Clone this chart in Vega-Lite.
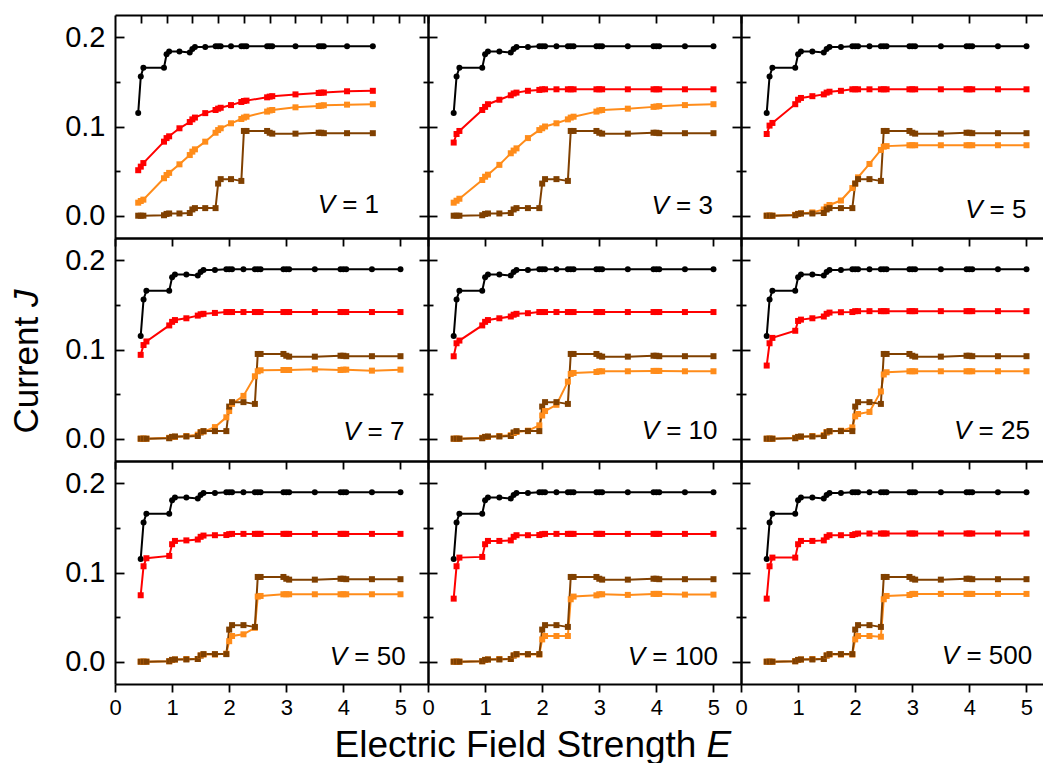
{
"$schema": "https://vega.github.io/schema/vega-lite/v6.json",
"padding": {"left": 9, "top": 14, "right": 0, "bottom": 0},
"datasets": {
"curves": [
{"V":1,"E":0.45,"black":0.115,"red":0.051,"orange":0.0146,"brown":0},
{"V":1,"E":0.5,"black":0.156,"red":0.055,"orange":0.0165,"brown":0},
{"V":1,"E":0.55,"black":0.166,"red":0.059,"orange":0.018,"brown":0},
{"V":1,"E":0.95,"black":0.166,"red":0.083,"orange":0.042,"brown":0.0005},
{"V":1,"E":1,"black":0.181,"red":0.087,"orange":0.0456,"brown":0.002},
{"V":1,"E":1.05,"black":0.184,"red":0.089,"orange":0.048,"brown":0.0025},
{"V":1,"E":1.25,"black":0.184,"red":0.098,"orange":0.0576,"brown":0.0025},
{"V":1,"E":1.45,"black":0.183,"red":0.105,"orange":0.068,"brown":0.003},
{"V":1,"E":1.5,"black":0.187,"red":0.108,"orange":0.0718,"brown":0.007},
{"V":1,"E":1.55,"black":0.189,"red":0.11,"orange":0.0744,"brown":0.0085},
{"V":1,"E":1.75,"black":0.189,"red":0.115,"orange":0.083,"brown":0.0085},
{"V":1,"E":1.95,"black":0.19,"red":0.1185,"orange":0.093,"brown":0.0085},
{"V":1,"E":2,"black":0.19,"red":0.12,"orange":0.096,"brown":0.036},
{"V":1,"E":2.05,"black":0.19,"red":0.121,"orange":0.098,"brown":0.041},
{"V":1,"E":2.25,"black":0.19,"red":0.124,"orange":0.1036,"brown":0.041},
{"V":1,"E":2.45,"black":0.19,"red":0.1275,"orange":0.1084,"brown":0.039},
{"V":1,"E":2.5,"black":0.19,"red":0.1286,"orange":0.11,"brown":0.095},
{"V":1,"E":2.55,"black":0.19,"red":0.129,"orange":0.111,"brown":0.095},
{"V":1,"E":2.95,"black":0.19,"red":0.1327,"orange":0.1167,"brown":0.095},
{"V":1,"E":3,"black":0.19,"red":0.1335,"orange":0.118,"brown":0.093},
{"V":1,"E":3.05,"black":0.19,"red":0.134,"orange":0.1185,"brown":0.092},
{"V":1,"E":3.5,"black":0.19,"red":0.136,"orange":0.1215,"brown":0.092},
{"V":1,"E":3.95,"black":0.19,"red":0.1376,"orange":0.123,"brown":0.093},
{"V":1,"E":4,"black":0.19,"red":0.138,"orange":0.1234,"brown":0.093},
{"V":1,"E":4.05,"black":0.19,"red":0.138,"orange":0.1238,"brown":0.0925},
{"V":1,"E":4.5,"black":0.19,"red":0.1395,"orange":0.1245,"brown":0.0925},
{"V":1,"E":5,"black":0.19,"red":0.14,"orange":0.125,"brown":0.0925},
{"V":3,"E":0.45,"black":0.115,"red":0.082,"orange":0.0146,"brown":0},
{"V":3,"E":0.5,"black":0.156,"red":0.0916,"orange":0.0168,"brown":0},
{"V":3,"E":0.55,"black":0.166,"red":0.095,"orange":0.019,"brown":0},
{"V":3,"E":0.95,"black":0.166,"red":0.1185,"orange":0.04,"brown":0.0005},
{"V":3,"E":1,"black":0.181,"red":0.122,"orange":0.0437,"brown":0.002},
{"V":3,"E":1.05,"black":0.184,"red":0.125,"orange":0.046,"brown":0.0025},
{"V":3,"E":1.25,"black":0.184,"red":0.13,"orange":0.057,"brown":0.0025},
{"V":3,"E":1.45,"black":0.183,"red":0.135,"orange":0.07,"brown":0.003},
{"V":3,"E":1.5,"black":0.187,"red":0.137,"orange":0.073,"brown":0.007},
{"V":3,"E":1.55,"black":0.189,"red":0.138,"orange":0.0755,"brown":0.0085},
{"V":3,"E":1.75,"black":0.189,"red":0.14,"orange":0.087,"brown":0.0085},
{"V":3,"E":1.95,"black":0.19,"red":0.141,"orange":0.096,"brown":0.0085},
{"V":3,"E":2,"black":0.19,"red":0.1417,"orange":0.098,"brown":0.036},
{"V":3,"E":2.05,"black":0.19,"red":0.1417,"orange":0.1,"brown":0.041},
{"V":3,"E":2.25,"black":0.19,"red":0.1417,"orange":0.1036,"brown":0.041},
{"V":3,"E":2.45,"black":0.19,"red":0.1417,"orange":0.108,"brown":0.039},
{"V":3,"E":2.5,"black":0.19,"red":0.1417,"orange":0.11,"brown":0.095},
{"V":3,"E":2.55,"black":0.19,"red":0.1417,"orange":0.111,"brown":0.095},
{"V":3,"E":2.95,"black":0.19,"red":0.1417,"orange":0.1167,"brown":0.095},
{"V":3,"E":3,"black":0.19,"red":0.1417,"orange":0.118,"brown":0.093},
{"V":3,"E":3.05,"black":0.19,"red":0.1417,"orange":0.1185,"brown":0.092},
{"V":3,"E":3.5,"black":0.19,"red":0.1417,"orange":0.12,"brown":0.092},
{"V":3,"E":3.95,"black":0.19,"red":0.1417,"orange":0.122,"brown":0.093},
{"V":3,"E":4,"black":0.19,"red":0.1417,"orange":0.1224,"brown":0.093},
{"V":3,"E":4.05,"black":0.19,"red":0.1417,"orange":0.1228,"brown":0.0925},
{"V":3,"E":4.5,"black":0.19,"red":0.1417,"orange":0.124,"brown":0.0925},
{"V":3,"E":5,"black":0.19,"red":0.1417,"orange":0.125,"brown":0.0925},
{"V":5,"E":0.45,"black":0.115,"red":0.0916,"orange":0,"brown":0},
{"V":5,"E":0.5,"black":0.156,"red":0.101,"orange":0,"brown":0},
{"V":5,"E":0.55,"black":0.166,"red":0.104,"orange":0,"brown":0},
{"V":5,"E":0.95,"black":0.166,"red":0.125,"orange":0.001,"brown":0.0005},
{"V":5,"E":1,"black":0.181,"red":0.13,"orange":0.002,"brown":0.002},
{"V":5,"E":1.05,"black":0.184,"red":0.132,"orange":0.0026,"brown":0.0025},
{"V":5,"E":1.25,"black":0.184,"red":0.134,"orange":0.0037,"brown":0.0025},
{"V":5,"E":1.45,"black":0.183,"red":0.136,"orange":0.007,"brown":0.003},
{"V":5,"E":1.5,"black":0.187,"red":0.138,"orange":0.01,"brown":0.007},
{"V":5,"E":1.55,"black":0.189,"red":0.139,"orange":0.012,"brown":0.0085},
{"V":5,"E":1.75,"black":0.189,"red":0.14,"orange":0.017,"brown":0.0085},
{"V":5,"E":1.95,"black":0.19,"red":0.1417,"orange":0.031,"brown":0.0085},
{"V":5,"E":2,"black":0.19,"red":0.1417,"orange":0.036,"brown":0.036},
{"V":5,"E":2.05,"black":0.19,"red":0.1417,"orange":0.043,"brown":0.041},
{"V":5,"E":2.25,"black":0.19,"red":0.1417,"orange":0.058,"brown":0.041},
{"V":5,"E":2.45,"black":0.19,"red":0.1417,"orange":0.0737,"brown":0.039},
{"V":5,"E":2.5,"black":0.19,"red":0.1417,"orange":0.0774,"brown":0.095},
{"V":5,"E":2.55,"black":0.19,"red":0.1417,"orange":0.078,"brown":0.095},
{"V":5,"E":2.95,"black":0.19,"red":0.1417,"orange":0.079,"brown":0.095},
{"V":5,"E":3,"black":0.19,"red":0.1417,"orange":0.079,"brown":0.093},
{"V":5,"E":3.05,"black":0.19,"red":0.1417,"orange":0.079,"brown":0.092},
{"V":5,"E":3.5,"black":0.19,"red":0.1417,"orange":0.079,"brown":0.092},
{"V":5,"E":3.95,"black":0.19,"red":0.1417,"orange":0.079,"brown":0.093},
{"V":5,"E":4,"black":0.19,"red":0.1417,"orange":0.079,"brown":0.093},
{"V":5,"E":4.05,"black":0.19,"red":0.1417,"orange":0.079,"brown":0.0925},
{"V":5,"E":4.5,"black":0.19,"red":0.1417,"orange":0.079,"brown":0.0925},
{"V":5,"E":5,"black":0.19,"red":0.1417,"orange":0.079,"brown":0.0925},
{"V":7,"E":0.45,"black":0.115,"red":0.094,"orange":0,"brown":0},
{"V":7,"E":0.5,"black":0.156,"red":0.105,"orange":0,"brown":0},
{"V":7,"E":0.55,"black":0.166,"red":0.109,"orange":0,"brown":0},
{"V":7,"E":0.95,"black":0.166,"red":0.127,"orange":0.001,"brown":0.0005},
{"V":7,"E":1,"black":0.181,"red":0.131,"orange":0.002,"brown":0.002},
{"V":7,"E":1.05,"black":0.184,"red":0.133,"orange":0.002,"brown":0.0025},
{"V":7,"E":1.25,"black":0.184,"red":0.135,"orange":0.003,"brown":0.0025},
{"V":7,"E":1.45,"black":0.183,"red":0.138,"orange":0.0045,"brown":0.003},
{"V":7,"E":1.5,"black":0.187,"red":0.1395,"orange":0.0075,"brown":0.007},
{"V":7,"E":1.55,"black":0.189,"red":0.14,"orange":0.008,"brown":0.0085},
{"V":7,"E":1.75,"black":0.189,"red":0.141,"orange":0.013,"brown":0.0085},
{"V":7,"E":1.95,"black":0.19,"red":0.142,"orange":0.024,"brown":0.0085},
{"V":7,"E":2,"black":0.19,"red":0.142,"orange":0.031,"brown":0.036},
{"V":7,"E":2.05,"black":0.19,"red":0.142,"orange":0.039,"brown":0.041},
{"V":7,"E":2.25,"black":0.19,"red":0.142,"orange":0.048,"brown":0.041},
{"V":7,"E":2.45,"black":0.19,"red":0.142,"orange":0.07,"brown":0.039},
{"V":7,"E":2.5,"black":0.19,"red":0.142,"orange":0.0756,"brown":0.095},
{"V":7,"E":2.55,"black":0.19,"red":0.142,"orange":0.0767,"brown":0.095},
{"V":7,"E":2.95,"black":0.19,"red":0.142,"orange":0.077,"brown":0.095},
{"V":7,"E":3,"black":0.19,"red":0.142,"orange":0.077,"brown":0.093},
{"V":7,"E":3.05,"black":0.19,"red":0.142,"orange":0.077,"brown":0.092},
{"V":7,"E":3.5,"black":0.19,"red":0.142,"orange":0.0778,"brown":0.092},
{"V":7,"E":3.95,"black":0.19,"red":0.142,"orange":0.077,"brown":0.093},
{"V":7,"E":4,"black":0.19,"red":0.142,"orange":0.0774,"brown":0.093},
{"V":7,"E":4.05,"black":0.19,"red":0.142,"orange":0.0774,"brown":0.0925},
{"V":7,"E":4.5,"black":0.19,"red":0.142,"orange":0.0763,"brown":0.0925},
{"V":7,"E":5,"black":0.19,"red":0.142,"orange":0.0774,"brown":0.0925},
{"V":10,"E":0.45,"black":0.115,"red":0.0924,"orange":0,"brown":0},
{"V":10,"E":0.5,"black":0.156,"red":0.107,"orange":0,"brown":0},
{"V":10,"E":0.55,"black":0.166,"red":0.11,"orange":0,"brown":0},
{"V":10,"E":0.95,"black":0.166,"red":0.127,"orange":0.001,"brown":0.0005},
{"V":10,"E":1,"black":0.181,"red":0.131,"orange":0.002,"brown":0.002},
{"V":10,"E":1.05,"black":0.184,"red":0.133,"orange":0.002,"brown":0.0025},
{"V":10,"E":1.25,"black":0.184,"red":0.135,"orange":0.003,"brown":0.0025},
{"V":10,"E":1.45,"black":0.183,"red":0.137,"orange":0.004,"brown":0.003},
{"V":10,"E":1.5,"black":0.187,"red":0.139,"orange":0.0064,"brown":0.007},
{"V":10,"E":1.55,"black":0.189,"red":0.14,"orange":0.0075,"brown":0.0085},
{"V":10,"E":1.75,"black":0.189,"red":0.1407,"orange":0.009,"brown":0.0085},
{"V":10,"E":1.95,"black":0.19,"red":0.142,"orange":0.015,"brown":0.0085},
{"V":10,"E":2,"black":0.19,"red":0.142,"orange":0.026,"brown":0.036},
{"V":10,"E":2.05,"black":0.19,"red":0.142,"orange":0.031,"brown":0.041},
{"V":10,"E":2.25,"black":0.19,"red":0.142,"orange":0.038,"brown":0.041},
{"V":10,"E":2.45,"black":0.19,"red":0.142,"orange":0.064,"brown":0.039},
{"V":10,"E":2.5,"black":0.19,"red":0.142,"orange":0.0726,"brown":0.095},
{"V":10,"E":2.55,"black":0.19,"red":0.142,"orange":0.0737,"brown":0.095},
{"V":10,"E":2.95,"black":0.19,"red":0.142,"orange":0.0748,"brown":0.095},
{"V":10,"E":3,"black":0.19,"red":0.142,"orange":0.0756,"brown":0.093},
{"V":10,"E":3.05,"black":0.19,"red":0.142,"orange":0.0756,"brown":0.092},
{"V":10,"E":3.5,"black":0.19,"red":0.142,"orange":0.0756,"brown":0.092},
{"V":10,"E":3.95,"black":0.19,"red":0.142,"orange":0.076,"brown":0.093},
{"V":10,"E":4,"black":0.19,"red":0.142,"orange":0.076,"brown":0.093},
{"V":10,"E":4.05,"black":0.19,"red":0.142,"orange":0.076,"brown":0.0925},
{"V":10,"E":4.5,"black":0.19,"red":0.142,"orange":0.0756,"brown":0.0925},
{"V":10,"E":5,"black":0.19,"red":0.142,"orange":0.0756,"brown":0.0925},
{"V":25,"E":0.45,"black":0.115,"red":0.082,"orange":0,"brown":0},
{"V":25,"E":0.5,"black":0.156,"red":0.107,"orange":0,"brown":0},
{"V":25,"E":0.55,"black":0.166,"red":0.113,"orange":0,"brown":0},
{"V":25,"E":0.95,"black":0.166,"red":0.121,"orange":0.001,"brown":0.0005},
{"V":25,"E":1,"black":0.181,"red":0.132,"orange":0.002,"brown":0.002},
{"V":25,"E":1.05,"black":0.184,"red":0.1335,"orange":0.002,"brown":0.0025},
{"V":25,"E":1.25,"black":0.184,"red":0.135,"orange":0.003,"brown":0.0025},
{"V":25,"E":1.45,"black":0.183,"red":0.137,"orange":0.004,"brown":0.003},
{"V":25,"E":1.5,"black":0.187,"red":0.14,"orange":0.0075,"brown":0.007},
{"V":25,"E":1.55,"black":0.189,"red":0.1414,"orange":0.008,"brown":0.0085},
{"V":25,"E":1.75,"black":0.189,"red":0.1418,"orange":0.009,"brown":0.0085},
{"V":25,"E":1.95,"black":0.19,"red":0.142,"orange":0.0127,"brown":0.0085},
{"V":25,"E":2,"black":0.19,"red":0.143,"orange":0.025,"brown":0.036},
{"V":25,"E":2.05,"black":0.19,"red":0.143,"orange":0.0277,"brown":0.041},
{"V":25,"E":2.25,"black":0.19,"red":0.143,"orange":0.03,"brown":0.041},
{"V":25,"E":2.45,"black":0.19,"red":0.143,"orange":0.053,"brown":0.039},
{"V":25,"E":2.5,"black":0.19,"red":0.143,"orange":0.072,"brown":0.095},
{"V":25,"E":2.55,"black":0.19,"red":0.143,"orange":0.0745,"brown":0.095},
{"V":25,"E":2.95,"black":0.19,"red":0.143,"orange":0.0756,"brown":0.095},
{"V":25,"E":3,"black":0.19,"red":0.143,"orange":0.0756,"brown":0.093},
{"V":25,"E":3.05,"black":0.19,"red":0.143,"orange":0.0756,"brown":0.092},
{"V":25,"E":3.5,"black":0.19,"red":0.143,"orange":0.0756,"brown":0.092},
{"V":25,"E":3.95,"black":0.19,"red":0.143,"orange":0.0756,"brown":0.093},
{"V":25,"E":4,"black":0.19,"red":0.143,"orange":0.0756,"brown":0.093},
{"V":25,"E":4.05,"black":0.19,"red":0.143,"orange":0.0756,"brown":0.0925},
{"V":25,"E":4.5,"black":0.19,"red":0.143,"orange":0.0756,"brown":0.0925},
{"V":25,"E":5,"black":0.19,"red":0.143,"orange":0.0756,"brown":0.0925},
{"V":50,"E":0.45,"black":0.115,"red":0.0745,"orange":0,"brown":0},
{"V":50,"E":0.5,"black":0.156,"red":0.107,"orange":0,"brown":0},
{"V":50,"E":0.55,"black":0.166,"red":0.116,"orange":0,"brown":0},
{"V":50,"E":0.95,"black":0.166,"red":0.1186,"orange":0.0005,"brown":0.0005},
{"V":50,"E":1,"black":0.181,"red":0.1317,"orange":0.002,"brown":0.002},
{"V":50,"E":1.05,"black":0.184,"red":0.1354,"orange":0.0025,"brown":0.0025},
{"V":50,"E":1.25,"black":0.184,"red":0.136,"orange":0.003,"brown":0.0025},
{"V":50,"E":1.45,"black":0.183,"red":0.137,"orange":0.003,"brown":0.003},
{"V":50,"E":1.5,"black":0.187,"red":0.14,"orange":0.007,"brown":0.007},
{"V":50,"E":1.55,"black":0.189,"red":0.1414,"orange":0.008,"brown":0.0085},
{"V":50,"E":1.75,"black":0.189,"red":0.1418,"orange":0.008,"brown":0.0085},
{"V":50,"E":1.95,"black":0.19,"red":0.142,"orange":0.009,"brown":0.0085},
{"V":50,"E":2,"black":0.19,"red":0.143,"orange":0.023,"brown":0.036},
{"V":50,"E":2.05,"black":0.19,"red":0.1433,"orange":0.0288,"brown":0.041},
{"V":50,"E":2.25,"black":0.19,"red":0.1433,"orange":0.0307,"brown":0.041},
{"V":50,"E":2.45,"black":0.19,"red":0.1433,"orange":0.038,"brown":0.039},
{"V":50,"E":2.5,"black":0.19,"red":0.1433,"orange":0.073,"brown":0.095},
{"V":50,"E":2.55,"black":0.19,"red":0.1433,"orange":0.0737,"brown":0.095},
{"V":50,"E":2.95,"black":0.19,"red":0.1433,"orange":0.0756,"brown":0.095},
{"V":50,"E":3,"black":0.19,"red":0.1433,"orange":0.0756,"brown":0.093},
{"V":50,"E":3.05,"black":0.19,"red":0.1433,"orange":0.0756,"brown":0.092},
{"V":50,"E":3.5,"black":0.19,"red":0.1433,"orange":0.0756,"brown":0.092},
{"V":50,"E":3.95,"black":0.19,"red":0.1433,"orange":0.0756,"brown":0.093},
{"V":50,"E":4,"black":0.19,"red":0.1433,"orange":0.0756,"brown":0.093},
{"V":50,"E":4.05,"black":0.19,"red":0.1433,"orange":0.0756,"brown":0.0925},
{"V":50,"E":4.5,"black":0.19,"red":0.1433,"orange":0.0756,"brown":0.0925},
{"V":50,"E":5,"black":0.19,"red":0.1433,"orange":0.0756,"brown":0.0925},
{"V":100,"E":0.45,"black":0.115,"red":0.0707,"orange":0,"brown":0},
{"V":100,"E":0.5,"black":0.156,"red":0.107,"orange":0,"brown":0},
{"V":100,"E":0.55,"black":0.166,"red":0.1167,"orange":0,"brown":0},
{"V":100,"E":0.95,"black":0.166,"red":0.1175,"orange":0.0005,"brown":0.0005},
{"V":100,"E":1,"black":0.181,"red":0.1317,"orange":0.002,"brown":0.002},
{"V":100,"E":1.05,"black":0.184,"red":0.1354,"orange":0.0025,"brown":0.0025},
{"V":100,"E":1.25,"black":0.184,"red":0.1354,"orange":0.003,"brown":0.0025},
{"V":100,"E":1.45,"black":0.183,"red":0.136,"orange":0.003,"brown":0.003},
{"V":100,"E":1.5,"black":0.187,"red":0.14,"orange":0.007,"brown":0.007},
{"V":100,"E":1.55,"black":0.189,"red":0.1418,"orange":0.008,"brown":0.0085},
{"V":100,"E":1.75,"black":0.189,"red":0.1418,"orange":0.008,"brown":0.0085},
{"V":100,"E":1.95,"black":0.19,"red":0.142,"orange":0.008,"brown":0.0085},
{"V":100,"E":2,"black":0.19,"red":0.143,"orange":0.025,"brown":0.036},
{"V":100,"E":2.05,"black":0.19,"red":0.1433,"orange":0.0288,"brown":0.041},
{"V":100,"E":2.25,"black":0.19,"red":0.1433,"orange":0.0288,"brown":0.041},
{"V":100,"E":2.45,"black":0.19,"red":0.1433,"orange":0.0288,"brown":0.039},
{"V":100,"E":2.5,"black":0.19,"red":0.1433,"orange":0.07,"brown":0.095},
{"V":100,"E":2.55,"black":0.19,"red":0.1433,"orange":0.073,"brown":0.095},
{"V":100,"E":2.95,"black":0.19,"red":0.1433,"orange":0.0744,"brown":0.095},
{"V":100,"E":3,"black":0.19,"red":0.1433,"orange":0.0756,"brown":0.093},
{"V":100,"E":3.05,"black":0.19,"red":0.1433,"orange":0.0756,"brown":0.092},
{"V":100,"E":3.5,"black":0.19,"red":0.1433,"orange":0.0749,"brown":0.092},
{"V":100,"E":3.95,"black":0.19,"red":0.1433,"orange":0.076,"brown":0.093},
{"V":100,"E":4,"black":0.19,"red":0.1433,"orange":0.076,"brown":0.093},
{"V":100,"E":4.05,"black":0.19,"red":0.1433,"orange":0.076,"brown":0.0925},
{"V":100,"E":4.5,"black":0.19,"red":0.1433,"orange":0.0752,"brown":0.0925},
{"V":100,"E":5,"black":0.19,"red":0.1433,"orange":0.0752,"brown":0.0925},
{"V":500,"E":0.45,"black":0.115,"red":0.0707,"orange":0,"brown":0},
{"V":500,"E":0.5,"black":0.156,"red":0.107,"orange":0,"brown":0},
{"V":500,"E":0.55,"black":0.166,"red":0.1167,"orange":0,"brown":0},
{"V":500,"E":0.95,"black":0.166,"red":0.1167,"orange":0.0005,"brown":0.0005},
{"V":500,"E":1,"black":0.181,"red":0.1317,"orange":0.002,"brown":0.002},
{"V":500,"E":1.05,"black":0.184,"red":0.1354,"orange":0.0025,"brown":0.0025},
{"V":500,"E":1.25,"black":0.184,"red":0.1354,"orange":0.003,"brown":0.0025},
{"V":500,"E":1.45,"black":0.183,"red":0.136,"orange":0.003,"brown":0.003},
{"V":500,"E":1.5,"black":0.187,"red":0.14,"orange":0.007,"brown":0.007},
{"V":500,"E":1.55,"black":0.189,"red":0.1418,"orange":0.008,"brown":0.0085},
{"V":500,"E":1.75,"black":0.189,"red":0.1418,"orange":0.008,"brown":0.0085},
{"V":500,"E":1.95,"black":0.19,"red":0.142,"orange":0.008,"brown":0.0085},
{"V":500,"E":2,"black":0.19,"red":0.143,"orange":0.025,"brown":0.036},
{"V":500,"E":2.05,"black":0.19,"red":0.1437,"orange":0.0288,"brown":0.041},
{"V":500,"E":2.25,"black":0.19,"red":0.1437,"orange":0.0288,"brown":0.041},
{"V":500,"E":2.45,"black":0.19,"red":0.1437,"orange":0.028,"brown":0.039},
{"V":500,"E":2.5,"black":0.19,"red":0.1437,"orange":0.07,"brown":0.095},
{"V":500,"E":2.55,"black":0.19,"red":0.1437,"orange":0.0737,"brown":0.095},
{"V":500,"E":2.95,"black":0.19,"red":0.1437,"orange":0.0748,"brown":0.095},
{"V":500,"E":3,"black":0.19,"red":0.1437,"orange":0.076,"brown":0.093},
{"V":500,"E":3.05,"black":0.19,"red":0.1437,"orange":0.076,"brown":0.092},
{"V":500,"E":3.5,"black":0.19,"red":0.1437,"orange":0.076,"brown":0.092},
{"V":500,"E":3.95,"black":0.19,"red":0.1437,"orange":0.076,"brown":0.093},
{"V":500,"E":4,"black":0.19,"red":0.1437,"orange":0.076,"brown":0.093},
{"V":500,"E":4.05,"black":0.19,"red":0.1437,"orange":0.076,"brown":0.0925},
{"V":500,"E":4.5,"black":0.19,"red":0.1437,"orange":0.076,"brown":0.0925},
{"V":500,"E":5,"black":0.19,"red":0.1437,"orange":0.076,"brown":0.0925}
],
"panels": [
{"V":1,"label":"= 1"},{"V":3,"label":"= 3"},{"V":5,"label":"= 5"},
{"V":7,"label":"= 7"},{"V":10,"label":"= 10"},{"V":25,"label":"= 25"},
{"V":50,"label":"= 50"},{"V":100,"label":"= 100"},{"V":500,"label":"= 500"}
]
},
"columns": 3,
"spacing": 0,
"bounds": "flush",
"align": "all",
"resolve": {"scale": {"x": "independent", "y": "independent"}},
"concat": [
{
"width": 313, "height": 223,
"resolve": {"axis": {"x": "independent", "y": "independent"}},
"layer": [
{"data": {"name": "curves"}, "transform": [{"filter": "datum.V == 1"}, {"fold": ["black", "red", "orange", "brown"], "as": ["series", "J"]}],
 "mark": {"type": "line", "strokeWidth": 2},
 "encoding": {
  "x": {"field": "E", "type": "quantitative", "scale": {"domain": [0, 6.07], "nice": false, "zero": false}, "axis": {"orient": "bottom", "ticks": false, "labels": false, "title": null}},
  "y": {"field": "J", "type": "quantitative", "scale": {"domain": [-0.025, 0.225], "nice": false, "zero": false}, "axis": {"orient": "left", "values": [0, 0.1, 0.2], "format": ".1f", "tickSize": -9, "labelFontSize": 29, "labelPadding": 19, "title": null}},
  "color": {"field": "series", "type": "nominal", "scale": {"domain": ["black", "red", "orange", "brown"], "range": ["#000000", "#ff0000", "#ff8c1a", "#804000"]}, "legend": null}}},
{"data": {"name": "curves"}, "transform": [{"filter": "datum.V == 1"}, {"fold": ["black", "red", "orange", "brown"], "as": ["series", "J"]}],
 "mark": {"type": "point", "filled": true, "opacity": 1, "size": 36},
 "encoding": {
  "x": {"field": "E", "type": "quantitative", "axis": {"orient": "top", "values": [0.5, 1, 1.5, 2, 2.5, 3, 3.5, 4, 4.5, 5, 5.5, 6], "tickSize": -8, "labels": false, "title": null}},
  "y": {"field": "J", "type": "quantitative", "axis": {"orient": "right", "values": [0, 0.1, 0.2], "tickSize": -9, "labels": false, "title": null}},
  "color": {"field": "series", "type": "nominal", "scale": {"domain": ["black", "red", "orange", "brown"], "range": ["#000000", "#ff0000", "#ff8c1a", "#804000"]}, "legend": null},
  "shape": {"field": "series", "type": "nominal", "scale": {"domain": ["black", "red", "orange", "brown"], "range": ["circle", "square", "square", "square"]}, "legend": null}}},
{"data": {"name": "panels"}, "transform": [{"filter": "datum.V == 1"}],
 "mark": {"type": "text", "text": "V", "fontStyle": "italic", "fontSize": 26, "color": "black", "align": "right", "baseline": "alphabetic", "dx": -44},
 "encoding": {"x": {"datum": 5.12, "type": "quantitative", "axis": null}, "y": {"datum": 0.0026, "type": "quantitative", "axis": {"orient": "left", "values": [0.05, 0.15], "tickSize": -5, "labels": false, "domain": false, "title": null}}}},
{"data": {"name": "panels"}, "transform": [{"filter": "datum.V == 1"}],
 "mark": {"type": "text", "fontSize": 26, "color": "black", "align": "right", "baseline": "alphabetic"},
 "encoding": {"x": {"datum": 5.12, "type": "quantitative", "axis": null}, "y": {"datum": 0.0026, "type": "quantitative", "axis": {"orient": "right", "values": [0.05, 0.15], "tickSize": -5, "labels": false, "domain": false, "title": null}}, "text": {"field": "label"}}}
]
},
{
"width": 313, "height": 223,
"resolve": {"axis": {"x": "independent", "y": "independent"}},
"layer": [
{"data": {"name": "curves"}, "transform": [{"filter": "datum.V == 3"}, {"fold": ["black", "red", "orange", "brown"], "as": ["series", "J"]}],
 "mark": {"type": "line", "strokeWidth": 2},
 "encoding": {
  "x": {"field": "E", "type": "quantitative", "scale": {"domain": [0, 5.482], "nice": false, "zero": false}, "axis": {"orient": "bottom", "ticks": false, "labels": false, "title": null}},
  "y": {"field": "J", "type": "quantitative", "scale": {"domain": [-0.025, 0.225], "nice": false, "zero": false}, "axis": {"orient": "left", "values": [0, 0.1, 0.2], "tickSize": -9, "labels": false, "title": null}},
  "color": {"field": "series", "type": "nominal", "scale": {"domain": ["black", "red", "orange", "brown"], "range": ["#000000", "#ff0000", "#ff8c1a", "#804000"]}, "legend": null}}},
{"data": {"name": "curves"}, "transform": [{"filter": "datum.V == 3"}, {"fold": ["black", "red", "orange", "brown"], "as": ["series", "J"]}],
 "mark": {"type": "point", "filled": true, "opacity": 1, "size": 36},
 "encoding": {
  "x": {"field": "E", "type": "quantitative", "axis": {"orient": "top", "values": [0, 1, 2, 3, 4, 5], "tickSize": -8, "labels": false, "title": null}},
  "y": {"field": "J", "type": "quantitative", "axis": {"orient": "right", "values": [0, 0.1, 0.2], "tickSize": -9, "labels": false, "title": null}},
  "color": {"field": "series", "type": "nominal", "scale": {"domain": ["black", "red", "orange", "brown"], "range": ["#000000", "#ff0000", "#ff8c1a", "#804000"]}, "legend": null},
  "shape": {"field": "series", "type": "nominal", "scale": {"domain": ["black", "red", "orange", "brown"], "range": ["circle", "square", "square", "square"]}, "legend": null}}},
{"data": {"name": "panels"}, "transform": [{"filter": "datum.V == 3"}],
 "mark": {"type": "text", "text": "V", "fontStyle": "italic", "fontSize": 26, "color": "black", "align": "right", "baseline": "alphabetic", "dx": -44},
 "encoding": {"x": {"datum": 4.99, "type": "quantitative", "axis": null}, "y": {"datum": 0.002, "type": "quantitative", "axis": {"orient": "left", "values": [0.05, 0.15], "tickSize": -5, "labels": false, "domain": false, "title": null}}}},
{"data": {"name": "panels"}, "transform": [{"filter": "datum.V == 3"}],
 "mark": {"type": "text", "fontSize": 26, "color": "black", "align": "right", "baseline": "alphabetic"},
 "encoding": {"x": {"datum": 4.99, "type": "quantitative", "axis": null}, "y": {"datum": 0.002, "type": "quantitative", "axis": {"orient": "right", "values": [0.05, 0.15], "tickSize": -5, "labels": false, "domain": false, "title": null}}, "text": {"field": "label"}}}
]
},
{
"width": 302, "height": 223,
"resolve": {"axis": {"x": "independent", "y": "independent"}},
"layer": [
{"data": {"name": "curves"}, "transform": [{"filter": "datum.V == 5"}, {"fold": ["black", "red", "orange", "brown"], "as": ["series", "J"]}],
 "mark": {"type": "line", "strokeWidth": 2},
 "encoding": {
  "x": {"field": "E", "type": "quantitative", "scale": {"domain": [0, 5.289], "nice": false, "zero": false}, "axis": {"orient": "bottom", "ticks": false, "labels": false, "title": null}},
  "y": {"field": "J", "type": "quantitative", "scale": {"domain": [-0.025, 0.225], "nice": false, "zero": false}, "axis": {"orient": "left", "values": [0, 0.1, 0.2], "tickSize": -9, "labels": false, "title": null}},
  "color": {"field": "series", "type": "nominal", "scale": {"domain": ["black", "red", "orange", "brown"], "range": ["#000000", "#ff0000", "#ff8c1a", "#804000"]}, "legend": null}}},
{"data": {"name": "curves"}, "transform": [{"filter": "datum.V == 5"}, {"fold": ["black", "red", "orange", "brown"], "as": ["series", "J"]}],
 "mark": {"type": "point", "filled": true, "opacity": 1, "size": 36},
 "encoding": {
  "x": {"field": "E", "type": "quantitative", "axis": {"orient": "top", "values": [0, 1, 2, 3, 4, 5], "tickSize": -8, "labels": false, "title": null}},
  "y": {"field": "J", "type": "quantitative", "axis": null},
  "color": {"field": "series", "type": "nominal", "scale": {"domain": ["black", "red", "orange", "brown"], "range": ["#000000", "#ff0000", "#ff8c1a", "#804000"]}, "legend": null},
  "shape": {"field": "series", "type": "nominal", "scale": {"domain": ["black", "red", "orange", "brown"], "range": ["circle", "square", "square", "square"]}, "legend": null}}},
{"data": {"name": "panels"}, "transform": [{"filter": "datum.V == 5"}],
 "mark": {"type": "text", "text": "V", "fontStyle": "italic", "fontSize": 26, "color": "black", "align": "right", "baseline": "alphabetic", "dx": -44},
 "encoding": {"x": {"datum": 5.0, "type": "quantitative", "axis": null}, "y": {"datum": -0.003, "type": "quantitative", "axis": {"orient": "left", "values": [0.05, 0.15], "tickSize": -5, "labels": false, "domain": false, "title": null}}}},
{"data": {"name": "panels"}, "transform": [{"filter": "datum.V == 5"}],
 "mark": {"type": "text", "fontSize": 26, "color": "black", "align": "right", "baseline": "alphabetic"},
 "encoding": {"x": {"datum": 5.0, "type": "quantitative", "axis": null}, "y": {"datum": -0.003, "type": "quantitative", "axis": null}, "text": {"field": "label"}}}
]
},
{
"width": 313, "height": 223,
"resolve": {"axis": {"x": "independent", "y": "independent"}},
"layer": [
{"data": {"name": "curves"}, "transform": [{"filter": "datum.V == 7"}, {"fold": ["black", "red", "orange", "brown"], "as": ["series", "J"]}],
 "mark": {"type": "line", "strokeWidth": 2},
 "encoding": {
  "x": {"field": "E", "type": "quantitative", "scale": {"domain": [0, 5.482], "nice": false, "zero": false}, "axis": {"orient": "bottom", "ticks": false, "labels": false, "title": null}},
  "y": {"field": "J", "type": "quantitative", "scale": {"domain": [-0.025, 0.225], "nice": false, "zero": false}, "axis": {"orient": "left", "values": [0, 0.1, 0.2], "format": ".1f", "tickSize": -9, "labelFontSize": 29, "labelPadding": 19, "title": "Current", "titleFontSize": 35, "titleAngle": -90, "titleAlign": "left", "titleBaseline": "alphabetic", "titleX": -78, "titleY": 195}},
  "color": {"field": "series", "type": "nominal", "scale": {"domain": ["black", "red", "orange", "brown"], "range": ["#000000", "#ff0000", "#ff8c1a", "#804000"]}, "legend": null}}},
{"data": {"name": "curves"}, "transform": [{"filter": "datum.V == 7"}, {"fold": ["black", "red", "orange", "brown"], "as": ["series", "J"]}],
 "mark": {"type": "point", "filled": true, "opacity": 1, "size": 36},
 "encoding": {
  "x": {"field": "E", "type": "quantitative", "axis": {"orient": "top", "values": [0, 1, 2, 3, 4, 5], "tickSize": -8, "labels": false, "title": null}},
  "y": {"field": "J", "type": "quantitative", "axis": {"orient": "right", "values": [0, 0.1, 0.2], "tickSize": -9, "labels": false, "title": null}},
  "color": {"field": "series", "type": "nominal", "scale": {"domain": ["black", "red", "orange", "brown"], "range": ["#000000", "#ff0000", "#ff8c1a", "#804000"]}, "legend": null},
  "shape": {"field": "series", "type": "nominal", "scale": {"domain": ["black", "red", "orange", "brown"], "range": ["circle", "square", "square", "square"]}, "legend": null}}},
{"data": {"name": "panels"}, "transform": [{"filter": "datum.V == 7"}],
 "mark": {"type": "text", "text": "V", "fontStyle": "italic", "fontSize": 26, "color": "black", "align": "right", "baseline": "alphabetic", "dx": -44},
 "encoding": {"x": {"datum": 5.07, "type": "quantitative", "axis": null}, "y": {"datum": -0.001, "type": "quantitative", "axis": {"orient": "left", "values": [0.05, 0.15], "tickSize": -5, "labels": false, "domain": false, "title": "J", "titleFontSize": 35, "titleFontStyle": "italic", "titleAngle": -90, "titleAlign": "left", "titleBaseline": "alphabetic", "titleX": -78, "titleY": 68.6}}}},
{"data": {"name": "panels"}, "transform": [{"filter": "datum.V == 7"}],
 "mark": {"type": "text", "fontSize": 26, "color": "black", "align": "right", "baseline": "alphabetic"},
 "encoding": {"x": {"datum": 5.07, "type": "quantitative", "axis": null}, "y": {"datum": -0.001, "type": "quantitative", "axis": {"orient": "right", "values": [0.05, 0.15], "tickSize": -5, "labels": false, "domain": false, "title": null}}, "text": {"field": "label"}}}
]
},
{
"width": 313, "height": 223,
"resolve": {"axis": {"x": "independent", "y": "independent"}},
"layer": [
{"data": {"name": "curves"}, "transform": [{"filter": "datum.V == 10"}, {"fold": ["black", "red", "orange", "brown"], "as": ["series", "J"]}],
 "mark": {"type": "line", "strokeWidth": 2},
 "encoding": {
  "x": {"field": "E", "type": "quantitative", "scale": {"domain": [0, 5.482], "nice": false, "zero": false}, "axis": {"orient": "bottom", "ticks": false, "labels": false, "title": null}},
  "y": {"field": "J", "type": "quantitative", "scale": {"domain": [-0.025, 0.225], "nice": false, "zero": false}, "axis": {"orient": "left", "values": [0, 0.1, 0.2], "tickSize": -9, "labels": false, "title": null}},
  "color": {"field": "series", "type": "nominal", "scale": {"domain": ["black", "red", "orange", "brown"], "range": ["#000000", "#ff0000", "#ff8c1a", "#804000"]}, "legend": null}}},
{"data": {"name": "curves"}, "transform": [{"filter": "datum.V == 10"}, {"fold": ["black", "red", "orange", "brown"], "as": ["series", "J"]}],
 "mark": {"type": "point", "filled": true, "opacity": 1, "size": 36},
 "encoding": {
  "x": {"field": "E", "type": "quantitative", "axis": {"orient": "top", "values": [0, 1, 2, 3, 4, 5], "tickSize": -8, "labels": false, "title": null}},
  "y": {"field": "J", "type": "quantitative", "axis": {"orient": "right", "values": [0, 0.1, 0.2], "tickSize": -9, "labels": false, "title": null}},
  "color": {"field": "series", "type": "nominal", "scale": {"domain": ["black", "red", "orange", "brown"], "range": ["#000000", "#ff0000", "#ff8c1a", "#804000"]}, "legend": null},
  "shape": {"field": "series", "type": "nominal", "scale": {"domain": ["black", "red", "orange", "brown"], "range": ["circle", "square", "square", "square"]}, "legend": null}}},
{"data": {"name": "panels"}, "transform": [{"filter": "datum.V == 10"}],
 "mark": {"type": "text", "text": "V", "fontStyle": "italic", "fontSize": 26, "color": "black", "align": "right", "baseline": "alphabetic", "dx": -58.5},
 "encoding": {"x": {"datum": 5.07, "type": "quantitative", "axis": null}, "y": {"datum": 0, "type": "quantitative", "axis": {"orient": "left", "values": [0.05, 0.15], "tickSize": -5, "labels": false, "domain": false, "title": null}}}},
{"data": {"name": "panels"}, "transform": [{"filter": "datum.V == 10"}],
 "mark": {"type": "text", "fontSize": 26, "color": "black", "align": "right", "baseline": "alphabetic"},
 "encoding": {"x": {"datum": 5.07, "type": "quantitative", "axis": null}, "y": {"datum": 0, "type": "quantitative", "axis": {"orient": "right", "values": [0.05, 0.15], "tickSize": -5, "labels": false, "domain": false, "title": null}}, "text": {"field": "label"}}}
]
},
{
"width": 302, "height": 223,
"resolve": {"axis": {"x": "independent", "y": "independent"}},
"layer": [
{"data": {"name": "curves"}, "transform": [{"filter": "datum.V == 25"}, {"fold": ["black", "red", "orange", "brown"], "as": ["series", "J"]}],
 "mark": {"type": "line", "strokeWidth": 2},
 "encoding": {
  "x": {"field": "E", "type": "quantitative", "scale": {"domain": [0, 5.289], "nice": false, "zero": false}, "axis": {"orient": "bottom", "ticks": false, "labels": false, "title": null}},
  "y": {"field": "J", "type": "quantitative", "scale": {"domain": [-0.025, 0.225], "nice": false, "zero": false}, "axis": {"orient": "left", "values": [0, 0.1, 0.2], "tickSize": -9, "labels": false, "title": null}},
  "color": {"field": "series", "type": "nominal", "scale": {"domain": ["black", "red", "orange", "brown"], "range": ["#000000", "#ff0000", "#ff8c1a", "#804000"]}, "legend": null}}},
{"data": {"name": "curves"}, "transform": [{"filter": "datum.V == 25"}, {"fold": ["black", "red", "orange", "brown"], "as": ["series", "J"]}],
 "mark": {"type": "point", "filled": true, "opacity": 1, "size": 36},
 "encoding": {
  "x": {"field": "E", "type": "quantitative", "axis": {"orient": "top", "values": [0, 1, 2, 3, 4, 5], "tickSize": -8, "labels": false, "title": null}},
  "y": {"field": "J", "type": "quantitative", "axis": null},
  "color": {"field": "series", "type": "nominal", "scale": {"domain": ["black", "red", "orange", "brown"], "range": ["#000000", "#ff0000", "#ff8c1a", "#804000"]}, "legend": null},
  "shape": {"field": "series", "type": "nominal", "scale": {"domain": ["black", "red", "orange", "brown"], "range": ["circle", "square", "square", "square"]}, "legend": null}}},
{"data": {"name": "panels"}, "transform": [{"filter": "datum.V == 25"}],
 "mark": {"type": "text", "text": "V", "fontStyle": "italic", "fontSize": 26, "color": "black", "align": "right", "baseline": "alphabetic", "dx": -58.5},
 "encoding": {"x": {"datum": 5.06, "type": "quantitative", "axis": null}, "y": {"datum": 0, "type": "quantitative", "axis": {"orient": "left", "values": [0.05, 0.15], "tickSize": -5, "labels": false, "domain": false, "title": null}}}},
{"data": {"name": "panels"}, "transform": [{"filter": "datum.V == 25"}],
 "mark": {"type": "text", "fontSize": 26, "color": "black", "align": "right", "baseline": "alphabetic"},
 "encoding": {"x": {"datum": 5.06, "type": "quantitative", "axis": null}, "y": {"datum": 0, "type": "quantitative", "axis": null}, "text": {"field": "label"}}}
]
},
{
"width": 313, "height": 223,
"resolve": {"axis": {"x": "independent", "y": "independent"}},
"layer": [
{"data": {"name": "curves"}, "transform": [{"filter": "datum.V == 50"}, {"fold": ["black", "red", "orange", "brown"], "as": ["series", "J"]}],
 "mark": {"type": "line", "strokeWidth": 2},
 "encoding": {
  "x": {"field": "E", "type": "quantitative", "scale": {"domain": [0, 5.482], "nice": false, "zero": false}, "axis": {"orient": "bottom", "values": [0, 1, 2, 3, 4, 5], "tickSize": 8, "labelFontSize": 22, "labelPadding": 5, "title": null}},
  "y": {"field": "J", "type": "quantitative", "scale": {"domain": [-0.025, 0.225], "nice": false, "zero": false}, "axis": {"orient": "left", "values": [0, 0.1, 0.2], "format": ".1f", "tickSize": -9, "labelFontSize": 29, "labelPadding": 19, "title": null}},
  "color": {"field": "series", "type": "nominal", "scale": {"domain": ["black", "red", "orange", "brown"], "range": ["#000000", "#ff0000", "#ff8c1a", "#804000"]}, "legend": null}}},
{"data": {"name": "curves"}, "transform": [{"filter": "datum.V == 50"}, {"fold": ["black", "red", "orange", "brown"], "as": ["series", "J"]}],
 "mark": {"type": "point", "filled": true, "opacity": 1, "size": 36},
 "encoding": {
  "x": {"field": "E", "type": "quantitative", "axis": {"orient": "top", "values": [0, 1, 2, 3, 4, 5], "tickSize": -8, "labels": false, "title": null}},
  "y": {"field": "J", "type": "quantitative", "axis": {"orient": "right", "values": [0, 0.1, 0.2], "tickSize": -9, "labels": false, "title": null}},
  "color": {"field": "series", "type": "nominal", "scale": {"domain": ["black", "red", "orange", "brown"], "range": ["#000000", "#ff0000", "#ff8c1a", "#804000"]}, "legend": null},
  "shape": {"field": "series", "type": "nominal", "scale": {"domain": ["black", "red", "orange", "brown"], "range": ["circle", "square", "square", "square"]}, "legend": null}}},
{"data": {"name": "panels"}, "transform": [{"filter": "datum.V == 50"}],
 "mark": {"type": "text", "text": "V", "fontStyle": "italic", "fontSize": 26, "color": "black", "align": "right", "baseline": "alphabetic", "dx": -58.5},
 "encoding": {"x": {"datum": 5.09, "type": "quantitative", "axis": null}, "y": {"datum": -0.004, "type": "quantitative", "axis": {"orient": "left", "values": [0.05, 0.15], "tickSize": -5, "labels": false, "domain": false, "title": null}}}},
{"data": {"name": "panels"}, "transform": [{"filter": "datum.V == 50"}],
 "mark": {"type": "text", "fontSize": 26, "color": "black", "align": "right", "baseline": "alphabetic"},
 "encoding": {"x": {"datum": 5.09, "type": "quantitative", "axis": null}, "y": {"datum": -0.004, "type": "quantitative", "axis": {"orient": "right", "values": [0.05, 0.15], "tickSize": -5, "labels": false, "domain": false, "title": null}}, "text": {"field": "label"}}}
]
},
{
"width": 313, "height": 223,
"resolve": {"axis": {"x": "independent", "y": "independent"}},
"layer": [
{"data": {"name": "curves"}, "transform": [{"filter": "datum.V == 100"}, {"fold": ["black", "red", "orange", "brown"], "as": ["series", "J"]}],
 "mark": {"type": "line", "strokeWidth": 2},
 "encoding": {
  "x": {"field": "E", "type": "quantitative", "scale": {"domain": [0, 5.482], "nice": false, "zero": false}, "axis": {"orient": "bottom", "values": [0, 1, 2, 3, 4, 5], "tickSize": 8, "labelFontSize": 22, "labelPadding": 5, "title": "Electric Field Strength", "titleFontSize": 37, "titleAlign": "left", "titleBaseline": "alphabetic", "titleAngle": 0, "titleX": -94, "titleY": 72}},
  "y": {"field": "J", "type": "quantitative", "scale": {"domain": [-0.025, 0.225], "nice": false, "zero": false}, "axis": {"orient": "left", "values": [0, 0.1, 0.2], "tickSize": -9, "labels": false, "title": null}},
  "color": {"field": "series", "type": "nominal", "scale": {"domain": ["black", "red", "orange", "brown"], "range": ["#000000", "#ff0000", "#ff8c1a", "#804000"]}, "legend": null}}},
{"data": {"name": "curves"}, "transform": [{"filter": "datum.V == 100"}, {"fold": ["black", "red", "orange", "brown"], "as": ["series", "J"]}],
 "mark": {"type": "point", "filled": true, "opacity": 1, "size": 36},
 "encoding": {
  "x": {"field": "E", "type": "quantitative", "axis": {"orient": "top", "values": [0, 1, 2, 3, 4, 5], "tickSize": -8, "labels": false, "title": null}},
  "y": {"field": "J", "type": "quantitative", "axis": {"orient": "right", "values": [0, 0.1, 0.2], "tickSize": -9, "labels": false, "title": null}},
  "color": {"field": "series", "type": "nominal", "scale": {"domain": ["black", "red", "orange", "brown"], "range": ["#000000", "#ff0000", "#ff8c1a", "#804000"]}, "legend": null},
  "shape": {"field": "series", "type": "nominal", "scale": {"domain": ["black", "red", "orange", "brown"], "range": ["circle", "square", "square", "square"]}, "legend": null}}},
{"data": {"name": "panels"}, "transform": [{"filter": "datum.V == 100"}],
 "mark": {"type": "text", "text": "V", "fontStyle": "italic", "fontSize": 26, "color": "black", "align": "right", "baseline": "alphabetic", "dx": -73},
 "encoding": {"x": {"datum": 5.08, "type": "quantitative", "axis": null}, "y": {"datum": -0.004, "type": "quantitative", "axis": {"orient": "left", "values": [0.05, 0.15], "tickSize": -5, "labels": false, "domain": false, "title": null}}}},
{"data": {"name": "panels"}, "transform": [{"filter": "datum.V == 100"}],
 "mark": {"type": "text", "fontSize": 26, "color": "black", "align": "right", "baseline": "alphabetic"},
 "encoding": {"x": {"datum": 5.08, "type": "quantitative", "axis": {"orient": "bottom", "ticks": false, "labels": false, "domain": false, "title": "E", "titleFontSize": 37, "titleFontStyle": "italic", "titleAlign": "left", "titleBaseline": "alphabetic", "titleAngle": 0, "titleX": 278, "titleY": 72}}, "y": {"datum": -0.004, "type": "quantitative", "axis": {"orient": "right", "values": [0.05, 0.15], "tickSize": -5, "labels": false, "domain": false, "title": null}}, "text": {"field": "label"}}}
]
},
{
"width": 302, "height": 223,
"resolve": {"axis": {"x": "independent", "y": "independent"}},
"layer": [
{"data": {"name": "curves"}, "transform": [{"filter": "datum.V == 500"}, {"fold": ["black", "red", "orange", "brown"], "as": ["series", "J"]}],
 "mark": {"type": "line", "strokeWidth": 2},
 "encoding": {
  "x": {"field": "E", "type": "quantitative", "scale": {"domain": [0, 5.289], "nice": false, "zero": false}, "axis": {"orient": "bottom", "values": [0, 1, 2, 3, 4, 5], "tickSize": 8, "labelFontSize": 22, "labelPadding": 5, "title": null}},
  "y": {"field": "J", "type": "quantitative", "scale": {"domain": [-0.025, 0.225], "nice": false, "zero": false}, "axis": {"orient": "left", "values": [0, 0.1, 0.2], "tickSize": -9, "labels": false, "title": null}},
  "color": {"field": "series", "type": "nominal", "scale": {"domain": ["black", "red", "orange", "brown"], "range": ["#000000", "#ff0000", "#ff8c1a", "#804000"]}, "legend": null}}},
{"data": {"name": "curves"}, "transform": [{"filter": "datum.V == 500"}, {"fold": ["black", "red", "orange", "brown"], "as": ["series", "J"]}],
 "mark": {"type": "point", "filled": true, "opacity": 1, "size": 36},
 "encoding": {
  "x": {"field": "E", "type": "quantitative", "axis": {"orient": "top", "values": [0, 1, 2, 3, 4, 5], "tickSize": -8, "labels": false, "title": null}},
  "y": {"field": "J", "type": "quantitative", "axis": null},
  "color": {"field": "series", "type": "nominal", "scale": {"domain": ["black", "red", "orange", "brown"], "range": ["#000000", "#ff0000", "#ff8c1a", "#804000"]}, "legend": null},
  "shape": {"field": "series", "type": "nominal", "scale": {"domain": ["black", "red", "orange", "brown"], "range": ["circle", "square", "square", "square"]}, "legend": null}}},
{"data": {"name": "panels"}, "transform": [{"filter": "datum.V == 500"}],
 "mark": {"type": "text", "text": "V", "fontStyle": "italic", "fontSize": 26, "color": "black", "align": "right", "baseline": "alphabetic", "dx": -73},
 "encoding": {"x": {"datum": 5.1, "type": "quantitative", "axis": null}, "y": {"datum": -0.003, "type": "quantitative", "axis": {"orient": "left", "values": [0.05, 0.15], "tickSize": -5, "labels": false, "domain": false, "title": null}}}},
{"data": {"name": "panels"}, "transform": [{"filter": "datum.V == 500"}],
 "mark": {"type": "text", "fontSize": 26, "color": "black", "align": "right", "baseline": "alphabetic"},
 "encoding": {"x": {"datum": 5.1, "type": "quantitative", "axis": null}, "y": {"datum": -0.003, "type": "quantitative", "axis": null}, "text": {"field": "label"}}}
]
}
],
"config": {
 "font": "Liberation Sans",
 "view": {"stroke": null},
 "axis": {"grid": false, "domainColor": "#000000", "domainWidth": 2, "tickColor": "#000000", "tickWidth": 1.8, "labelColor": "#000000", "labelFont": "Liberation Sans", "titleFont": "Liberation Sans", "titleColor": "#000000", "titleFontWeight": "normal", "labelFlush": false, "labelOverlap": false}
}
}
